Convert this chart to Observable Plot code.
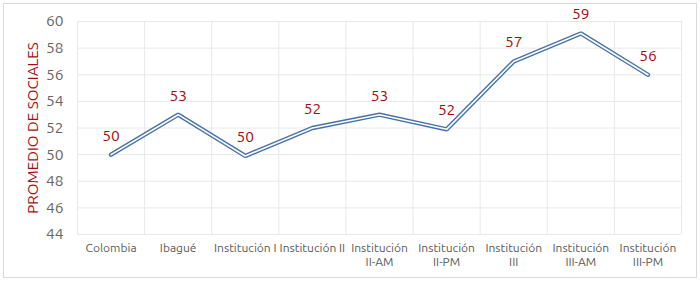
<!DOCTYPE html>
<html>
<head>
<meta charset="utf-8">
<script src="https://cdn.jsdelivr.net/npm/d3@7"></script>
<script src="https://cdn.jsdelivr.net/npm/@observablehq/plot@0.6"></script>
<style>
  html, body { margin: 0; padding: 0; background: #fff; }
  svg { display: block; }
</style>
</head>
<body>
<div id="chart"></div>
<script>
const categories = ["Colombia", "Ibagué", "Institución I", "Institución II", "Institución\nII-AM", "Institución\nII-PM", "Institución\nIII", "Institución\nIII-AM", "Institución\nIII-PM"];
const values = [50.0, 53.0, 49.9, 52.0, 53.0, 51.9, 57.0, 59.1, 56.0];
const valueLabels = ["50", "53", "50", "52", "53", "52", "57", "59", "56"];
const yTicks = [44, 46, 48, 50, 52, 54, 56, 58, 60];
const yTitle = "PROMEDIO DE SOCIALES";

const data = categories.map((c, i) => ({i, c, v: values[i], label: valueLabels[i]}));
const bounds = d3.range(categories.length + 1).map(i => i - 0.5);

const font = "Ubuntu, 'Open Sans', sans-serif";
const blue = "#4672a6";
const red = "#a01010";

const plot = Plot.plot({
  width: 700,
  height: 281,
  marginLeft: 77,
  marginRight: 19,
  marginTop: 21,
  marginBottom: 47,
  style: {fontFamily: font, background: "#fff", overflow: "visible"},
  x: {domain: [-0.5, categories.length - 0.5]},
  y: {domain: [44, 60]},
  marks: [
    Plot.gridY(yTicks, {stroke: "#e8e8e8", strokeOpacity: 1, strokeWidth: 1}),
    Plot.ruleX(bounds, {stroke: "#e8e8e8", strokeWidth: 1}),
    Plot.axisY(yTicks, {tickSize: 0, tickPadding: 14, fontSize: 15.5, fill: "#666", label: null}),
    Plot.axisX(d3.range(categories.length), {tickSize: 0, tickPadding: 8, fontSize: 12, fill: "#595959", label: null, tickFormat: i => categories[i], lineHeight: 1.15}),
    Plot.text([yTitle], {frameAnchor: "left", textAnchor: "middle", rotate: -90, dx: -44, fontSize: 15.2, fill: red, text: d => d}),
    Plot.line(data, {x: "i", y: "v", stroke: blue, strokeWidth: 4.4, strokeLinejoin: "miter"}),
    Plot.line(data, {x: "i", y: "v", stroke: "#fff", strokeWidth: 1.6, strokeLinejoin: "miter"}),
    Plot.text(data, {x: "i", y: "v", text: "label", dy: -19, fontSize: 15.5, fill: red})
  ]
});

d3.select(plot).append("rect")
  .attr("x", 3.5).attr("y", 3.5).attr("width", 693).attr("height", 274)
  .attr("fill", "none").attr("stroke", "#d9d9d9").attr("stroke-width", 1);

document.getElementById("chart").appendChild(plot);
</script>
</body>
</html>
